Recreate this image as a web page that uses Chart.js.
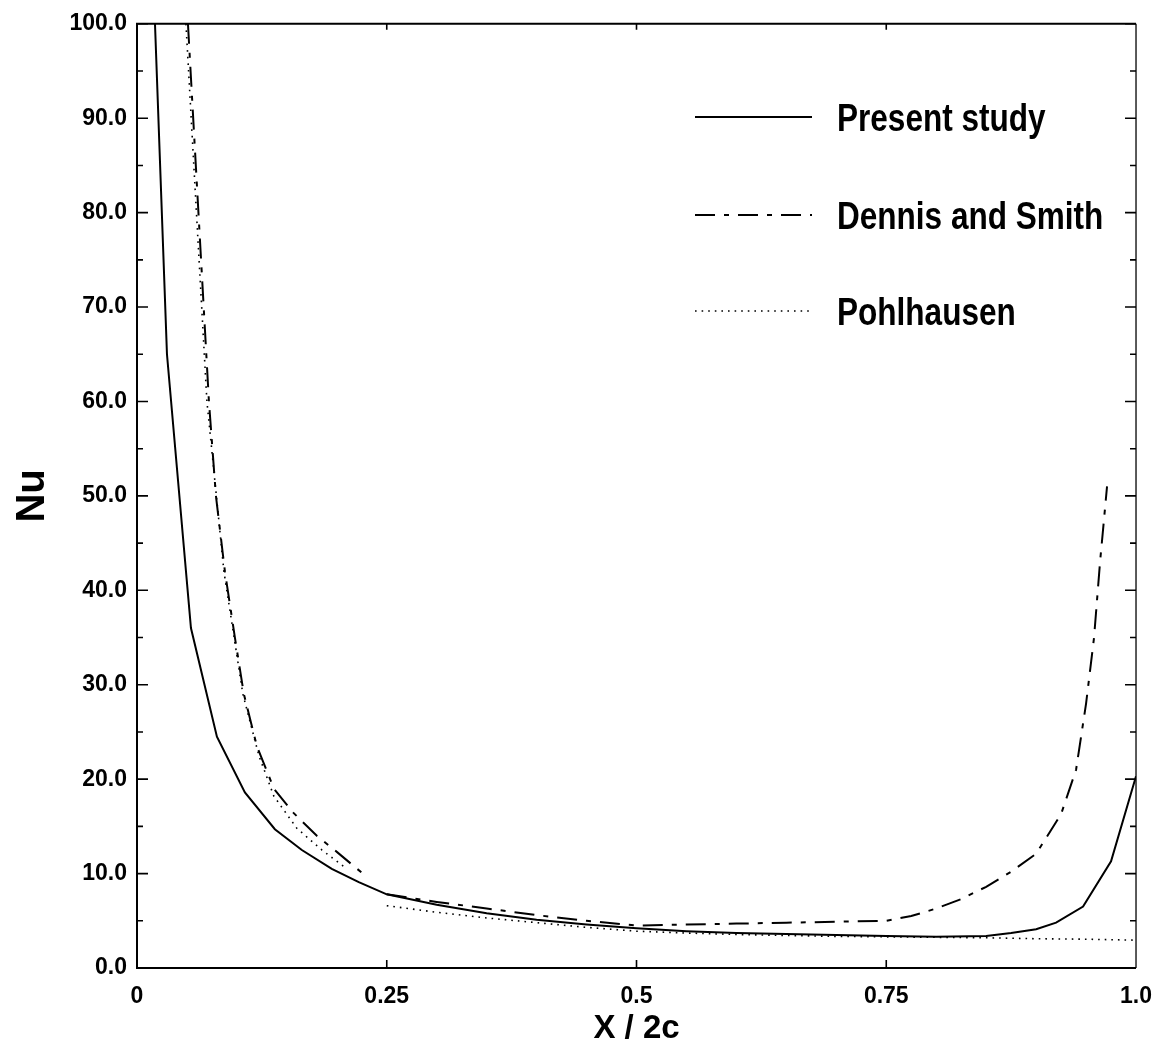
<!DOCTYPE html>
<html>
<head>
<meta charset="utf-8">
<title>Nu vs X/2c</title>
<script src="https://cdn.jsdelivr.net/npm/chart.js@4.4.0/dist/chart.umd.min.js"></script>
<style>
  html, body { margin: 0; padding: 0; background: #fff; }
  #wrap { width: 1167px; height: 1052px; }
</style>
</head>
<body>
<div id="wrap"><canvas id="nuChart" width="1167" height="1052"></canvas></div>
<script>
// values (X/2c, Nu); null = break between the two pieces of a curve
const presentX  = [0.018, 0.030, 0.054, 0.080, 0.108, 0.138, 0.165, 0.195, 0.222, 0.25, 0.30, 0.35, 0.40, 0.45, 0.50, 0.55, 0.60, 0.65, 0.70, 0.75, 0.80, 0.85, 0.875, 0.90, 0.92, 0.947, 0.975, 1.0];
const presentNu = [100, 65, 36, 24.5, 18.6, 14.7, 12.5, 10.5, 9.1, 7.8, 6.7, 5.8, 5.1, 4.6, 4.2, 3.9, 3.7, 3.6, 3.5, 3.4, 3.3, 3.4, 3.7, 4.1, 4.8, 6.5, 11.3, 20.3];

const dennisX  = [0.051, 0.072, 0.079, 0.088, 0.098, 0.107, 0.120, 0.137, 0.156, 0.180, 0.200, 0.226, 0.24, 0.25, 0.30, 0.35, 0.40, 0.45, 0.50, 0.55, 0.60, 0.65, 0.70, 0.75, 0.775, 0.80, 0.825, 0.85, 0.875, 0.90, 0.925, 0.94, 0.95, 0.958, 0.964, 0.971];
const dennisNu = [100, 60, 50, 42, 35, 29, 23.5, 19, 16.5, 14, 12.3, 10, null, 7.8, 7.0, 6.3, 5.6, 5.0, 4.5, 4.6, 4.7, 4.8, 4.9, 5.0, 5.5, 6.3, 7.3, 8.6, 10.2, 12.1, 16.3, 21, 28, 35, 43, 51];

const pohlX  = [0.049, 0.070, 0.087, 0.106, 0.122, 0.137, 0.160, 0.185, 0.210, 0.24, 0.25, 0.30, 0.35, 0.40, 0.45, 0.50, 0.55, 0.60, 0.65, 0.70, 0.75, 0.80, 0.85, 0.90, 0.95, 1.0];
const pohlNu = [100, 60, 42, 29, 22.5, 18.2, 14.8, 12.5, 10.5, null, 6.6, 5.9, 5.3, 4.8, 4.3, 3.9, 3.7, 3.55, 3.45, 3.35, 3.3, 3.25, 3.2, 3.1, 3.05, 2.95];

const seriesNames = ["Present study", "Dennis and Smith", "Pohlhausen"];

const xTickVals   = [0, 0.25, 0.5, 0.75, 1.0];
const xTickLabels = ["0", "0.25", "0.5", "0.75", "1.0"];
const yTickVals   = [0, 10, 20, 30, 40, 50, 60, 70, 80, 90, 100];
const yTickLabels = ["0.0", "10.0", "20.0", "30.0", "40.0", "50.0", "60.0", "70.0", "80.0", "90.0", "100.0"];

const toPoints = (xs, ys) => xs.map((x, i) => ({ x: x, y: ys[i] }));

const FONT = '"Liberation Sans", Arial, sans-serif';
Chart.defaults.font.family = FONT;
Chart.defaults.color = "#000";

// frame + inward tick marks on all four sides
const frameTicks = {
  id: "frameTicks",
  afterDatasetsDraw(chart) {
    const { ctx, chartArea: a, scales: { x, y } } = chart;
    ctx.save();
    ctx.strokeStyle = "#000";
    ctx.setLineDash([]);
    ctx.lineWidth = 2;
    ctx.beginPath();
    ctx.moveTo(a.right, a.top); ctx.lineTo(a.left, a.top);
    ctx.lineTo(a.left, a.bottom); ctx.lineTo(a.right, a.bottom);
    ctx.stroke();
    ctx.lineWidth = 1.3;
    ctx.beginPath();
    ctx.moveTo(a.right, a.top); ctx.lineTo(a.right, a.bottom);
    ctx.stroke();

    ctx.lineWidth = 1.6;
    ctx.beginPath();
    yTickVals.forEach((v, i) => {
      const py = y.getPixelForValue(v);
      ctx.moveTo(a.left, py); ctx.lineTo(a.left + 11, py);
      ctx.moveTo(a.right, py); ctx.lineTo(a.right - 11, py);
      if (i < yTickVals.length - 1) {
        const pm = y.getPixelForValue((v + yTickVals[i + 1]) / 2);
        ctx.moveTo(a.left, pm); ctx.lineTo(a.left + 6, pm);
        ctx.moveTo(a.right, pm); ctx.lineTo(a.right - 6, pm);
      }
    });
    xTickVals.slice(1, -1).forEach(v => {
      const px = x.getPixelForValue(v);
      ctx.moveTo(px, a.bottom); ctx.lineTo(px, a.bottom - 8);
      ctx.moveTo(px, a.top); ctx.lineTo(px, a.top + 6);
    });
    ctx.stroke();
    ctx.restore();
  }
};

// legend inside the plot: line sample + narrow label
const lineLegend = {
  id: "lineLegend",
  afterDraw(chart) {
    const { ctx } = chart;
    const rowsY = [117, 215, 311];
    ctx.save();
    chart.data.datasets.forEach((ds, i) => {
      const yy = rowsY[i];
      ctx.strokeStyle = ds.borderColor;
      ctx.lineWidth = ds.borderWidth;
      ctx.setLineDash(ds.borderDash || []);
      ctx.beginPath();
      ctx.moveTo(695, yy); ctx.lineTo(812, yy);
      ctx.stroke();
      ctx.setLineDash([]);
      ctx.save();
      ctx.translate(837, yy + 14);
      ctx.scale(0.83, 1);
      ctx.font = "bold 38px " + FONT;
      ctx.fillStyle = "#000";
      ctx.textBaseline = "alphabetic";
      ctx.fillText(ds.label, 0, 0);
      ctx.restore();
    });
    ctx.restore();
  }
};

new Chart(document.getElementById("nuChart"), {
  type: "line",
  data: {
    datasets: [
      {
        label: seriesNames[0],
        data: toPoints(presentX, presentNu),
        borderColor: "#000",
        borderWidth: 2,
        borderDash: [],
      },
      {
        label: seriesNames[1],
        data: toPoints(dennisX, dennisNu),
        borderColor: "#000",
        borderWidth: 2,
        borderDash: [20, 9, 5, 9],
      },
      {
        label: seriesNames[2],
        data: toPoints(pohlX, pohlNu),
        borderColor: "#000",
        borderWidth: 1.6,
        borderDash: [1.6, 5],
      },
    ],
  },
  options: {
    responsive: false,
    animation: false,
    devicePixelRatio: 1,
    layout: { padding: { left: 0, right: 24, top: 22, bottom: 0 } },
    elements: {
      point: { radius: 0, hoverRadius: 0 },
      line: { tension: 0, fill: false },
    },
    plugins: {
      legend: { display: false },
      tooltip: { enabled: false },
    },
    scales: {
      x: {
        type: "linear",
        min: 0,
        max: 1,
        grid: { display: false, drawTicks: false },
        border: { display: false },
        afterBuildTicks: (scale) => { scale.ticks = xTickVals.map(v => ({ value: v })); },
        afterFit: (scale) => { scale.height = 84; },
        ticks: {
          padding: 15,
          maxRotation: 0,
          font: { size: 23, weight: "bold" },
          callback: (v) => xTickLabels[xTickVals.indexOf(v)],
        },
        title: {
          display: true,
          text: "X / 2c",
          font: { size: 33, weight: "bold" },
          padding: { top: 0, bottom: 3 },
        },
      },
      y: {
        type: "linear",
        min: 0,
        max: 100,
        grid: { display: false, drawTicks: false },
        border: { display: false },
        afterBuildTicks: (scale) => { scale.ticks = yTickVals.map(v => ({ value: v })); },
        afterFit: (scale) => { scale.width = 137; },
        ticks: {
          padding: 10,
          font: { size: 23, weight: "bold" },
          callback: (v) => yTickLabels[yTickVals.indexOf(v)],
        },
        title: {
          display: true,
          text: "Nu",
          font: { size: 40, weight: "bold" },
          padding: { top: 9, bottom: 0 },
        },
      },
    },
  },
  plugins: [frameTicks, lineLegend],
});
</script>
</body>
</html>
